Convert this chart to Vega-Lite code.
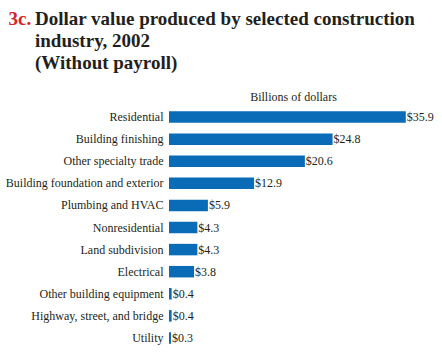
{
  "$schema": "https://vega.github.io/schema/vega-lite/v6.json",
  "width": 248,
  "height": 243,
  "autosize": "none",
  "padding": {"left": 169, "top": 106, "right": 25, "bottom": 5},
  "background": "white",
  "title": {
    "text": [
      "Dollar value produced by selected construction",
      "industry, 2002",
      "(Without payroll)"
    ],
    "color": "#231f20",
    "font": "Liberation Serif",
    "fontSize": 19,
    "fontWeight": "bold",
    "lineHeight": 22,
    "anchor": "start",
    "frame": "group",
    "dx": -134,
    "dy": 82,
    "offset": 18
  },
  "data": {
    "values": [
      {"industry": "Residential", "value": 35.9},
      {"industry": "Building finishing", "value": 24.8},
      {"industry": "Other specialty trade", "value": 20.6},
      {"industry": "Building foundation and exterior", "value": 12.9},
      {"industry": "Plumbing and HVAC", "value": 5.9},
      {"industry": "Nonresidential", "value": 4.3},
      {"industry": "Land subdivision", "value": 4.3},
      {"industry": "Electrical", "value": 3.8},
      {"industry": "Other building equipment", "value": 0.4},
      {"industry": "Highway, street, and bridge", "value": 0.4},
      {"industry": "Utility", "value": 0.3}
    ]
  },
  "encoding": {
    "y": {
      "field": "industry",
      "type": "nominal",
      "sort": null,
      "scale": {"paddingInner": 0.48, "paddingOuter": 0.24},
      "axis": {
        "title": "3c.",
        "titleAngle": 0,
        "titleAlign": "left",
        "titleBaseline": "alphabetic",
        "titleX": -161,
        "titleY": -82,
        "titleFont": "Liberation Serif",
        "titleFontSize": 19,
        "titleFontWeight": "bold",
        "titleColor": "#d4232b",
        "ticks": false,
        "domain": false,
        "labelPadding": 6,
        "labelFont": "Liberation Serif",
        "labelFontSize": 12,
        "labelColor": "#231f20",
        "labelLimit": 300
      }
    },
    "x": {
      "field": "value",
      "type": "quantitative",
      "scale": {"domain": [0, 37.6], "nice": false},
      "axis": {
        "orient": "top",
        "title": "Billions of dollars",
        "labels": false,
        "ticks": false,
        "domain": false,
        "grid": false,
        "titleFont": "Liberation Serif",
        "titleFontSize": 12,
        "titleFontWeight": "normal",
        "titleColor": "#231f20",
        "titlePadding": 3
      }
    }
  },
  "layer": [
    {"mark": {"type": "bar", "color": "#0a6cb6"}},
    {
      "mark": {
        "type": "text",
        "align": "left",
        "baseline": "middle",
        "dx": 1,
        "font": "Liberation Serif",
        "fontSize": 12,
        "color": "#231f20"
      },
      "encoding": {"text": {"field": "value", "type": "quantitative", "format": "$.1f"}}
    }
  ],
  "config": {"view": {"stroke": null}}
}
